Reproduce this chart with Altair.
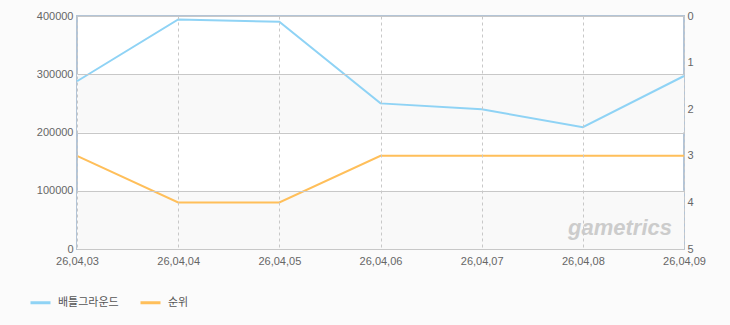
import altair as alt
import pandas as pd

dates = ["26,04,03", "26,04,04", "26,04,05", "26,04,06", "26,04,07", "26,04,08", "26,04,09"]
users = [288000, 394000, 390000, 250000, 240000, 209000, 297000]
ranks = [3, 4, 4, 3, 3, 3, 3]
series_names = ["배틀그라운드", "순위"]
band_starts = [0, 200000]
band_size = 100000

df_users = pd.DataFrame({"date": dates, "value": users, "series": series_names[0]})
df_rank = pd.DataFrame({"date": dates, "value": ranks, "series": series_names[1]})
df_band = pd.DataFrame({"y": band_starts, "y2": [b + band_size for b in band_starts]})

color_scale = alt.Scale(domain=series_names, range=["#8fd3f5", "#ffbf5a"])
font = "Liberation Sans"

x_enc = alt.X("date:N", sort=dates, scale=alt.Scale(type="point", padding=0),
              axis=alt.Axis(title=None, labelAngle=0, labelColor="#666666", labelFont=font,
                            labelFontSize=11, grid=True, gridDash=[3, 3], gridColor="#c8c8c8",
                            domain=False, ticks=False, labelPadding=6, zindex=1))

bands = alt.Chart(df_band).mark_rect(color="#f9f9f9").encode(
    y=alt.Y("y:Q", scale=alt.Scale(domain=[0, 400000])),
    y2="y2:Q",
)

left_line = alt.Chart(df_users).mark_line(strokeWidth=2).encode(
    x=x_enc,
    y=alt.Y("value:Q", scale=alt.Scale(domain=[0, 400000]),
            axis=alt.Axis(title=None, values=[0, 100000, 200000, 300000, 400000], format="d",
                          labelColor="#666666", labelFont=font, labelFontSize=11,
                          gridColor="#c8c8c8", domain=False, ticks=False, labelPadding=4,
                          zindex=1)),
    color=alt.Color("series:N", scale=color_scale,
                    legend=alt.Legend(title=None, orient="none", legendX=-48, legendY=275,
                                      direction="horizontal", symbolType="stroke",
                                      symbolSize=400, symbolStrokeWidth=3,
                                      labelFont="Noto Sans CJK KR", labelFontSize=11,
                                      labelColor="#555555", columnPadding=15, labelOffset=6)),
)

left_layer = alt.layer(bands, left_line)

right_line = alt.Chart(df_rank).mark_line(strokeWidth=2).encode(
    x=x_enc,
    y=alt.Y("value:Q", scale=alt.Scale(domain=[0, 5], reverse=True),
            axis=alt.Axis(title=None, orient="right", values=[0, 1, 2, 3, 4, 5],
                          labelColor="#666666", labelFont=font, labelFontSize=11,
                          grid=False, domain=False, ticks=False, labelPadding=3)),
    color=alt.Color("series:N", scale=color_scale),
)

watermark = alt.Chart(pd.DataFrame({"t": ["gametrics"]})).mark_text(
    font=font, fontSize=22, fontStyle="italic", fontWeight="bold",
    color="#cccccc", align="center", baseline="middle"
).encode(x=alt.value(543), y=alt.value(212), text="t:N")

chart = alt.layer(left_layer, right_line, watermark).resolve_scale(
    y="independent"
).properties(
    width=607, height=233,
    padding={"left": 77, "top": 16, "right": 46, "bottom": 76},
    autosize=alt.AutoSizeParams(type="none"),
    background="#fbfbfb",
).configure_view(
    stroke="#b3c4d6", strokeWidth=2, fill="white"
)

chart.save("out.html", embed_options={"renderer": "svg", "actions": False})
